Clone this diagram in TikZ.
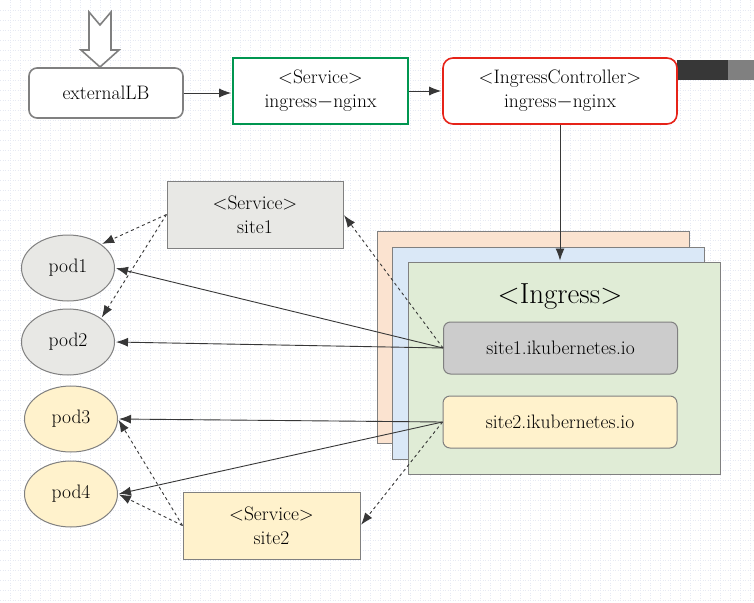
\documentclass[tikz,border=0pt]{standalone}
\usepackage{fontspec}
\usetikzlibrary{arrows.meta,shapes.geometric}

\definecolor{linedark}{RGB}{55,55,55}
\definecolor{boxgray}{RGB}{128,128,128}
\definecolor{svcgreen}{RGB}{0,150,80}
\definecolor{ctrlred}{RGB}{230,35,25}
\definecolor{fillorange}{RGB}{251,227,208}
\definecolor{fillblue}{RGB}{218,232,247}
\definecolor{fillgreen}{RGB}{224,236,214}
\definecolor{fillgray}{RGB}{204,204,204}
\definecolor{filllight}{RGB}{232,232,229}
\definecolor{fillyellow}{RGB}{255,242,204}
\definecolor{gridblue}{RGB}{230,233,243}

\begin{document}
\begin{tikzpicture}[x=1pt,y=-1pt,->,>={Latex[length=12pt,width=9pt]},line width=0.9pt,draw=linedark,
    font=\fontsize{19.5}{24}\selectfont]
    \tikzstyle{box}=[rectangle,draw=boxgray,line width=1pt,align=center,inner sep=0pt]
    \tikzstyle{lb}=[box,rounded corners=8pt,line width=1.6pt,fill=white]
    \tikzstyle{service}=[box,fill=white]
    \tikzstyle{layer}=[box,minimum width=312pt,minimum height=212pt]
    \tikzstyle{host}=[box,rounded corners=7pt,minimum width=234pt,minimum height=52pt]
    \tikzstyle{pod}=[ellipse,draw=boxgray,line width=1pt,minimum width=93pt,minimum height=66pt,inner sep=0pt]
    \tikzstyle{link}=[shorten >=1pt]
    \tikzstyle{dlink}=[link,dash pattern=on 3pt off 3pt]

    % Background and grid
    \useasboundingbox (0,0) rectangle (754,602);
    \fill[white] (0,0) rectangle (754,602);
    \foreach \x in {10,20,...,750}
        \draw[-,gridblue,line width=0.5pt,dotted] (\x,0) -- (\x,602);
    \foreach \y in {10,20,...,600}
        \draw[-,gridblue,line width=0.5pt,dotted] (0,\y) -- (754,\y);
    \fill[linedark] (677,60) rectangle (728,80);
    \fill[boxgray] (728,60) rectangle (754,80);

    % Draw the entry chain
    \node[lb,minimum width=154pt,minimum height=50pt] (elb) at (106,93) {externalLB};
    \node[service,draw=svcgreen,line width=1.6pt,minimum width=175pt,minimum height=66pt] (svc-ng) at (320.5,91) {<Service>\\ingress$-$nginx};
    \node[lb,draw=ctrlred,minimum width=234pt,minimum height=66pt,rounded corners=10pt] (ctrl) at (560,91) {<IngressController>\\ingress$-$nginx};
    \draw[-,draw=boxgray,fill=white,line width=1.6pt] (89,12) -- (100,25) -- (111,12) -- (111,50) -- (119,50)
        -- (100,67) -- (81,50) -- (89,50) -- cycle;

    % Draw the ingress stack
    \node[layer,fill=fillorange] (ing-1) at (533,337.5) {};
    \node[layer,fill=fillblue] (ing-2) at (548,353) {};
    \node[layer,fill=fillgreen] (ing-3) at (564,368) {};
    \node[font=\fontsize{29}{34}\selectfont] (ing-t) at (560,297) {<Ingress>};
    \node[host,fill=fillgray] (host-1) at (560.5,348) {site1.ikubernetes.io};
    \node[host,fill=fillyellow] (host-2) at (560,422) {site2.ikubernetes.io};

    % Draw the services and pods
    \node[service,fill=filllight,minimum width=176pt,minimum height=67pt] (svc-1) at (255,214.5) {<Service>\\site1};
    \node[service,fill=fillyellow,minimum width=177pt,minimum height=67pt] (svc-2) at (271.5,525.5) {<Service>\\site2};
    \node[pod,fill=filllight] (pod-1) at (68,268) {pod1};
    \node[pod,fill=filllight] (pod-2) at (68,342) {pod2};
    \node[pod,fill=fillyellow] (pod-3) at (71,419) {pod3};
    \node[pod,fill=fillyellow] (pod-4) at (71,494) {pod4};

    % Connect the entry chain
    \draw[link] (elb.east) -- (elb.east -| svc-ng.west);
    \draw[link] (svc-ng) -- (ctrl);
    \draw[link] (ctrl.south) -- (ctrl.south |- ing-3.north);

    % Connect the hosts with the pods
    \draw[link] (host-1.west) -- (pod-1.east);
    \draw[link] (host-1.west) -- (pod-2.east);
    \draw[link] (host-2.west) -- (pod-3.east);
    \draw[link] (host-2.west) -- (pod-4.east);

    % Connect the hosts with the services and the services with the pods
    \draw[dlink] (host-1.west) -- (svc-1.east);
    \draw[dlink] (svc-1.west) -- (pod-1.north east);
    \draw[dlink] (svc-1.west) -- (pod-2.north east);
    \draw[dlink] (host-2.west) -- (svc-2.east);
    \draw[dlink] (svc-2.west) -- (pod-3.east);
    \draw[dlink] (svc-2.west) -- (pod-4.east);
\end{tikzpicture}
\end{document}
